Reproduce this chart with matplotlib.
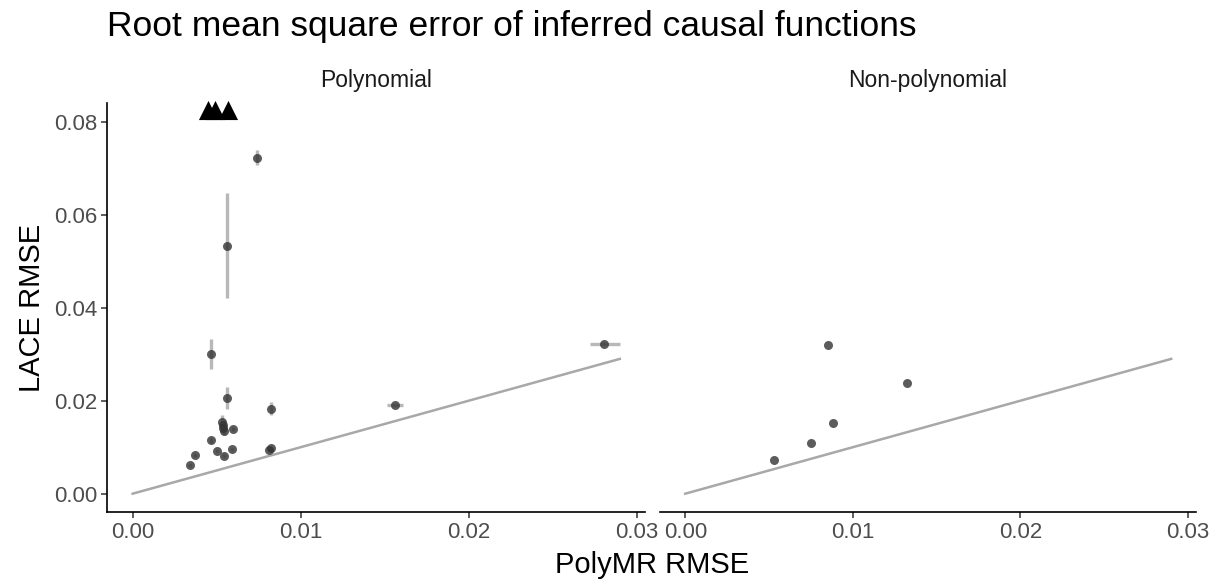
import numpy as np
import matplotlib.pyplot as plt

plt.rcParams['font.family'] = ['Liberation Sans', 'DejaVu Sans']

# Polynomial panel: PolyMR RMSE (x) vs LACE RMSE (y), with error bar ends
poly_x = [0.00466, 0.00561, 0.00823, 0.00530, 0.00535, 0.00540, 0.00546, 0.00597,
          0.00466, 0.00373, 0.00341, 0.00502, 0.00543, 0.00592, 0.00811, 0.00823,
          0.00561, 0.00740, 0.01562, 0.02805]
poly_y = [0.0300, 0.0205, 0.0183, 0.0155, 0.0148, 0.0141, 0.0134, 0.0139,
          0.0115, 0.0083, 0.0061, 0.0092, 0.0082, 0.0096, 0.0095, 0.0098,
          0.0533, 0.0723, 0.0190, 0.0323]
poly_ylo = [0.0269, 0.0182, 0.0170, 0.0140, 0.0138, 0.0132, 0.0126, 0.0134,
            0.0110, 0.0080, 0.0058, 0.0089, 0.0079, 0.0093, 0.0092, 0.0095,
            0.0421, 0.0708, 0.0187, 0.0320]
poly_yhi = [0.0333, 0.0229, 0.0198, 0.0170, 0.0160, 0.0150, 0.0142, 0.0144,
            0.0120, 0.0086, 0.0064, 0.0095, 0.0085, 0.0099, 0.0098, 0.0101,
            0.0647, 0.0740, 0.0193, 0.0326]
poly_xlo = [0.00460, 0.00556, 0.00818, 0.00525, 0.00530, 0.00535, 0.00541, 0.00592,
            0.00461, 0.00368, 0.00336, 0.00497, 0.00538, 0.00587, 0.00806, 0.00818,
            0.00556, 0.00735, 0.01516, 0.02720]
poly_xhi = [0.00472, 0.00566, 0.00828, 0.00535, 0.00540, 0.00545, 0.00551, 0.00602,
            0.00471, 0.00378, 0.00346, 0.00507, 0.00548, 0.00597, 0.00816, 0.00828,
            0.00566, 0.00745, 0.01611, 0.02900]

# points whose LACE RMSE lies above the plotted range
off_x = [0.00447, 0.00490, 0.00569]
off_y = [0.0826, 0.0826, 0.0826]

# Non-polynomial panel
npoly_x = [0.00850, 0.01323, 0.00882, 0.00753, 0.00529]
npoly_y = [0.0319, 0.0239, 0.0152, 0.0109, 0.0073]

ident = [0.0, 0.029]

fig = plt.figure(figsize=(12.19, 5.86), dpi=100)
ax1 = fig.add_axes([0.0880, 0.1258, 0.4409, 0.6980])
ax2 = fig.add_axes([0.5414, 0.1258, 0.4397, 0.6980])

err_col = '#b8b8b8'
pt_col = '#333333'

for ax in (ax1, ax2):
    ax.plot(ident, ident, color='#a8a8a8', lw=1.8, zorder=1)

ax1.vlines(poly_x, poly_ylo, poly_yhi, color=err_col, lw=2.4, zorder=2)
ax1.hlines(poly_y, poly_xlo, poly_xhi, color=err_col, lw=2.4, zorder=2)
ax1.scatter(poly_x, poly_y, s=42, color=pt_col, alpha=0.8, lw=0, zorder=3)
ax1.scatter(off_x, off_y, s=190, marker='^', color='black', lw=0, zorder=4, clip_on=False)

ax2.scatter(npoly_x, npoly_y, s=42, color=pt_col, alpha=0.8, lw=0, zorder=3)

for ax, name in ((ax1, 'Polynomial'), (ax2, 'Non-polynomial')):
    ax.set_xlim(-0.00151, 0.03048)
    ax.set_ylim(-0.0040, 0.0840)
    ax.set_xticks([0.0, 0.01, 0.02, 0.03])
    ax.set_xticklabels(['0.00', '0.01', '0.02', '0.03'])
    for s in ('top', 'right'):
        ax.spines[s].set_visible(False)
    ax.spines['left'].set_linewidth(1.2)
    ax.spines['bottom'].set_linewidth(1.2)
    ax.tick_params(length=4, width=1.1, colors='#333333', labelcolor='#4d4d4d',
                   labelsize=16, pad=3)
    ax.set_title(name, fontsize=16.5, color='#1a1a1a', pad=12)

ax1.set_yticks([0.0, 0.02, 0.04, 0.06, 0.08])
ax1.set_yticklabels(['0.00', '0.02', '0.04', '0.06', '0.08'])
ax2.spines['left'].set_visible(False)
ax2.set_yticks([])

ax1.set_ylabel('LACE RMSE', fontsize=21, labelpad=6)
fig.text(0.5349, 0.035, 'PolyMR RMSE', ha='center', va='center', fontsize=21)
fig.text(0.0880, 0.955, 'Root mean square error of inferred causal functions',
         ha='left', va='center', fontsize=25.5)

fig.savefig('out.png', dpi=100)
